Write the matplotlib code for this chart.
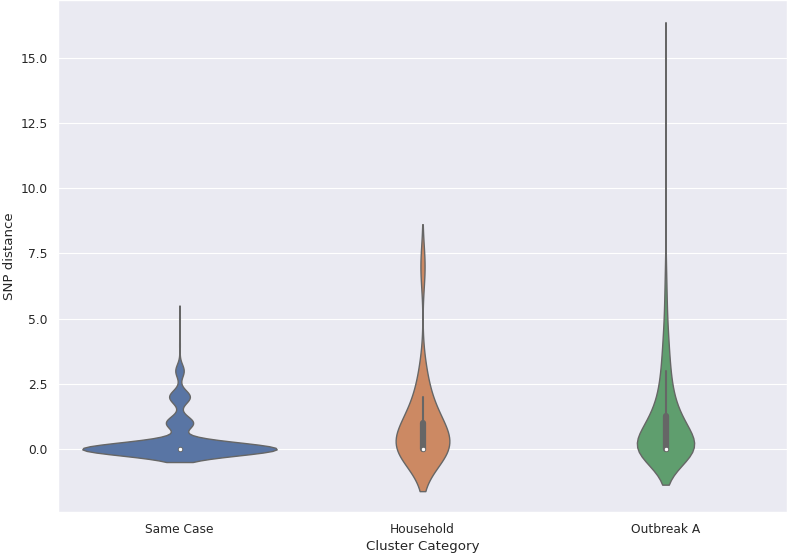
import numpy as np
import pandas as pd
import matplotlib
matplotlib.use("Agg")
import matplotlib.pyplot as plt
from matplotlib.collections import PolyCollection
import seaborn as sns

# SNP distances (integer) and how many pairs had each distance, per cluster category
categories = ["Same Case", "Household", "Outbreak A"]

same_case_snp = [0, 1, 2, 3, 4, 5]
same_case_n = [300, 42, 32, 13, 1, 1]

household_snp = [0, 1, 2, 3, 7]
household_n = [20, 10, 4, 2, 2]

outbreak_snp = [0, 1, 2, 3, 4, 5, 6, 7, 15]
outbreak_n = [77, 34, 15, 9, 6, 3, 2, 1, 1]

rows = []
for cat, snp, n in zip(categories,
                       [same_case_snp, household_snp, outbreak_snp],
                       [same_case_n, household_n, outbreak_n]):
    vals = np.repeat(snp, n)
    rows.append(pd.DataFrame({"Cluster Category": cat, "SNP distance": vals}))
df = pd.concat(rows, ignore_index=True)

sns.set_theme(style="darkgrid")
plt.rcParams['font.family'] = ['DejaVu Sans']

fig = plt.figure(figsize=(787/80, 554/80), dpi=80)
ax = fig.add_axes([58/787, 42/554, 1 - 58/787, 1 - 42/554])

sns.violinplot(data=df, x="Cluster Category", y="SNP distance",
               order=categories, linecolor="#666666",
               inner_kws=dict(marker="o"), ax=ax)

# colour each violin like the default palette (seaborn saturation .75)
cols = [sns.desaturate(c, 0.75) for c in sns.color_palette("deep", 3)]
polys = [c for c in ax.collections if isinstance(c, PolyCollection)]
for poly, c in zip(polys, cols):
    poly.set_facecolor(c)

# small white median dot with a grey rim
for ln in ax.lines:
    if ln.get_marker() == "o":
        ln.set_markersize(4)
        ln.set_markerfacecolor("white")
        ln.set_markeredgecolor("#666666")
        ln.set_markeredgewidth(0.8)

ax.set_ylim(-2.42, 17.22)

fig.savefig("out.png", dpi=80)
